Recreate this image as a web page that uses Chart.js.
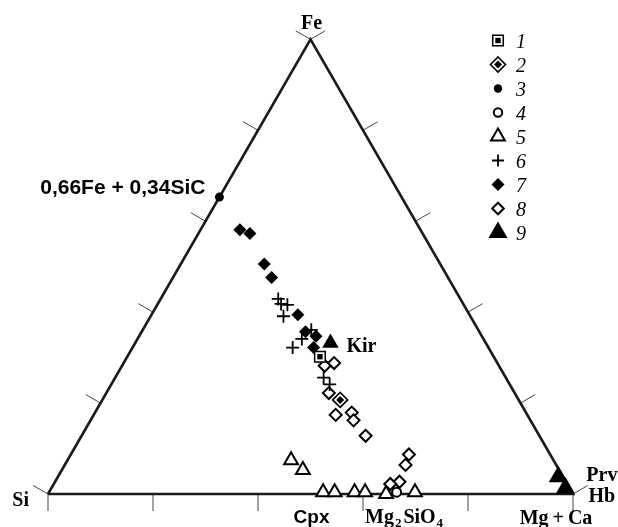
<!DOCTYPE html>
<html><head><meta charset="utf-8">
<script src="https://cdn.jsdelivr.net/npm/chart.js@4/dist/chart.umd.min.js"></script>
<style>html,body{margin:0;padding:0;background:#fff}canvas{display:block}</style>
</head><body>
<canvas id="c" width="618" height="527"></canvas>
<script>
// Ternary compositions: [Fe %, Mg+Ca %]  (Si = 100 - Fe - MgCa)
const vertices = { Si: [0, 0], Fe: [100, 0], MgCa: [0, 100] };
const tickFractions = [0, 20, 40, 60, 80, 100];
const s1Square = [[30.2, 36.7]];
const s2DiamondDot = [[20.7, 45.3]];
const s3Dot = [[65.3, 0]];
const s4Circle = [[0.4, 66.2]];
const s5OpenTriangle = [[7.4, 42.6], [5.3, 45.9], [0.4, 52.2], [0.4, 54.4], [0.4, 58.2], [0.4, 60.2], [0, 64.4], [0.4, 69.7]];
const s6Plus = [[42.9, 22.4], [41.8, 23.5], [41.6, 24.8], [39.1, 25.3], [36.1, 32.1], [34.1, 31.3], [32.2, 30.5], [25.6, 39.7], [24.1, 41.6]];
const s7FilledDiamond = [[58.1, 7.5], [57.3, 9.8], [50.6, 15.9], [47.6, 18.8], [39.4, 27.9], [35.7, 31.2], [34.7, 33.7], [32.2, 34.5]];
const s8OpenDiamond = [[28.2, 38.6], [28.8, 40.1], [22.2, 42.4], [17.4, 46.1], [17.9, 48.9], [16.2, 50.1], [12.8, 54.1], [8.7, 64.4], [6.4, 64.9], [2.7, 65.6], [2.2, 64.1]];
const s9FilledTriangle = [[33.2, 37.2], [3.8, 95.3], [1.3, 97.9]];
const legendLabels = ['1', '2', '3', '4', '5', '6', '7', '8', '9'];

const H = Math.sqrt(3) / 2;
const toXY = p => ({ x: p[1] / 100 + p[0] / 200, y: (p[0] / 100) * H });
const PX = 525;
const xMin = -48 / PX, xMax = (618 - 48) / PX, yMin = -(527 - 494) / PX, yMax = 494 / PX;
const BLACK = '#000', WHITE = '#fff';
const SERIF = "'Liberation Serif','Times New Roman',serif";
const SANS = "'Liberation Sans',Arial,sans-serif";

function pts(arr) { return arr.map(toXY); }

const datasets = [
  { label: 'frame', data: pts([vertices.Si, vertices.Fe, vertices.MgCa, vertices.Si]), showLine: true,
    borderColor: '#1a1a1a', borderWidth: 2.6, pointRadius: 0, fill: false, order: 20, borderJoinStyle: 'miter' },
  { label: '5', data: pts(s5OpenTriangle), pointStyle: 'triangle', pointRadius: 8, pointBorderWidth: 2,
    borderColor: BLACK, backgroundColor: WHITE, order: 12 },
  { label: '4', data: pts(s4Circle), pointStyle: 'circle', pointRadius: 4.5, pointBorderWidth: 2,
    borderColor: BLACK, backgroundColor: WHITE, order: 11 },
  { label: '8', data: pts(s8OpenDiamond), pointStyle: 'rectRot', pointRadius: 6, pointBorderWidth: 2,
    borderColor: BLACK, backgroundColor: WHITE, order: 10 },
  { label: '6', data: pts(s6Plus), pointStyle: 'cross', pointRadius: 6.5, pointBorderWidth: 1.8,
    borderColor: BLACK, backgroundColor: BLACK, order: 9 },
  { label: '7', data: pts(s7FilledDiamond), pointStyle: 'rectRot', pointRadius: 6.5, pointBorderWidth: 0,
    borderColor: BLACK, backgroundColor: BLACK, order: 8 },
  { label: '1o', data: pts(s1Square), pointStyle: 'rect', pointRadius: 7.5, pointBorderWidth: 1.5,
    borderColor: BLACK, backgroundColor: WHITE, order: 7 },
  { label: '1i', data: pts(s1Square), pointStyle: 'rect', pointRadius: 3.8, pointBorderWidth: 0,
    borderColor: BLACK, backgroundColor: BLACK, order: 6 },
  { label: '2o', data: pts(s2DiamondDot), pointStyle: 'rectRot', pointRadius: 7.5, pointBorderWidth: 1.6,
    borderColor: BLACK, backgroundColor: WHITE, order: 5 },
  { label: '2i', data: pts(s2DiamondDot), pointStyle: 'rectRot', pointRadius: 4, pointBorderWidth: 0,
    borderColor: BLACK, backgroundColor: BLACK, order: 4 },
  { label: '3', data: pts(s3Dot), pointStyle: 'circle', pointRadius: 4.5, pointBorderWidth: 0,
    borderColor: BLACK, backgroundColor: BLACK, order: 3 },
  { label: '9', data: pts(s9FilledTriangle), pointStyle: 'triangle', pointRadius: [9.5, 11, 11], pointBorderWidth: 0,
    borderColor: BLACK, backgroundColor: BLACK, order: 2 }
];

function shape(ctx, style, x, y, r, fill, lw) {
  ctx.beginPath();
  if (style === 'circle') ctx.arc(x, y, r, 0, Math.PI * 2);
  else if (style === 'rect') { const s = r * Math.SQRT1_2; ctx.rect(x - s, y - s, 2 * s, 2 * s); }
  else if (style === 'rectRot') { ctx.moveTo(x, y - r); ctx.lineTo(x + r, y); ctx.lineTo(x, y + r); ctx.lineTo(x - r, y); ctx.closePath(); }
  else if (style === 'triangle') { ctx.moveTo(x, y - r); ctx.lineTo(x + r * H, y + r / 2); ctx.lineTo(x - r * H, y + r / 2); ctx.closePath(); }
  else if (style === 'cross') { ctx.moveTo(x - r, y); ctx.lineTo(x + r, y); ctx.moveTo(x, y - r); ctx.lineTo(x, y + r); }
  if (style !== 'cross') { ctx.fillStyle = fill; ctx.fill(); }
  if (lw > 0) { ctx.lineWidth = lw; ctx.strokeStyle = BLACK; ctx.stroke(); }
}

const legendMarkers = [
  [['rect', 7.5, WHITE, 1.5], ['rect', 3.8, BLACK, 0]],
  [['rectRot', 7.5, WHITE, 1.6], ['rectRot', 4, BLACK, 0]],
  [['circle', 4.2, BLACK, 0]],
  [['circle', 4.2, WHITE, 2]],
  [['triangle', 8, WHITE, 2]],
  [['cross', 6, BLACK, 1.8]],
  [['rectRot', 6.5, BLACK, 0]],
  [['rectRot', 5.8, WHITE, 2]],
  [['triangle', 11, BLACK, 0]]
];

const decor = {
  id: 'decor',
  beforeDatasetsDraw(chart) {
    const { ctx, scales: { x: sx, y: sy } } = chart;
    const px = p => { const q = toXY(p); return [sx.getPixelForValue(q.x), sy.getPixelForValue(q.y)]; };
    const L = 17;
    ctx.save();
    ctx.strokeStyle = '#444'; ctx.lineWidth = 1;
    const seg = (a, b, c, d) => { ctx.beginPath(); ctx.moveTo(a, b); ctx.lineTo(c, d); ctx.stroke(); };
    tickFractions.forEach(f => {
      let [a, b] = px([f, 0]); seg(a, b, a - L * H, b - L * 0.5);
      [a, b] = px([100 - f, f]); seg(a, b, a + L * H, b - L * 0.5);
      [a, b] = px([0, f]); seg(a, b, a, b + L);
    });
    ctx.restore();
  },
  afterDatasetsDraw(chart) {
    const { ctx, scales: { x: sx, y: sy } } = chart;
    const px = p => { const q = toXY(p); return [sx.getPixelForValue(q.x), sy.getPixelForValue(q.y)]; };
    ctx.save();
    ctx.fillStyle = BLACK;
    ctx.textBaseline = 'alphabetic';
    const txt = (s, x, y, font, align) => { ctx.font = font; ctx.textAlign = align || 'left'; ctx.fillText(s, x, y); };
    const [feX, feY] = px(vertices.Fe);
    const [siX, siY] = px(vertices.Si);
    const [mcX, mcY] = px(vertices.MgCa);
    txt('Fe', feX + 1, feY - 10, 'bold 20px ' + SERIF, 'center');
    txt('Si', siX - 19, siY + 12, 'bold 20px ' + SERIF, 'right');
    txt('Mg\u2009+\u2009Ca', mcX - 17, mcY + 30, 'bold 20px ' + SERIF, 'center');
    const [cx] = px([0, 50]);
    txt('Cpx', cx + 1, siY + 29, 'bold 19px ' + SANS, 'center');
    const [mx] = px([0, 60]);
    let x0 = mx + 2; const by = siY + 29;
    ctx.font = 'bold 20px ' + SERIF; ctx.textAlign = 'left';
    ctx.fillText('Mg', x0, by); x0 += ctx.measureText('Mg').width;
    ctx.font = 'bold 13px ' + SERIF; ctx.fillText('2', x0 + 1, by + 4); x0 += ctx.measureText('2').width + 3;
    ctx.font = 'bold 20px ' + SERIF; ctx.fillText('SiO', x0, by); x0 += ctx.measureText('SiO').width;
    ctx.font = 'bold 13px ' + SERIF; ctx.fillText('4', x0 + 1, by + 4);
    const [kx, ky] = px(s9FilledTriangle[0]);
    txt('Kir', kx + 16, ky + 9, 'bold 20px ' + SERIF);
    const [prx, pry] = px(s9FilledTriangle[1]);
    txt('Prv', prx + 28, pry + 4, 'bold 20px ' + SERIF);
    const [hbx, hby] = px(s9FilledTriangle[2]);
    txt('Hb', hbx + 23, hby + 14, 'bold 20px ' + SERIF);
    const [dx, dy] = px(s3Dot[0]);
    txt('0,66Fe + 0,34SiC', dx - 14, dy - 3, 'bold 21px ' + SANS, 'right');
    // legend
    legendLabels.forEach((lab, i) => {
      const y = 40.5 + 24 * i;
      legendMarkers[i].forEach(m => shape(ctx, m[0], 498, y, m[1], m[2], m[3]));
      ctx.fillStyle = BLACK;
      txt(lab, 516, y + 7, 'italic 20px ' + SERIF, 'left');
    });
    ctx.restore();
  }
};

new Chart(document.getElementById('c'), {
  type: 'scatter',
  data: { datasets },
  options: {
    responsive: false, animation: false, devicePixelRatio: 1, events: [],
    layout: { padding: 0, autoPadding: false },
    clip: false,
    scales: {
      x: { type: 'linear', min: xMin, max: xMax, display: false },
      y: { type: 'linear', min: yMin, max: yMax, display: false }
    },
    plugins: { legend: { display: false }, tooltip: { enabled: false } }
  },
  plugins: [decor]
});
</script>
</body></html>
